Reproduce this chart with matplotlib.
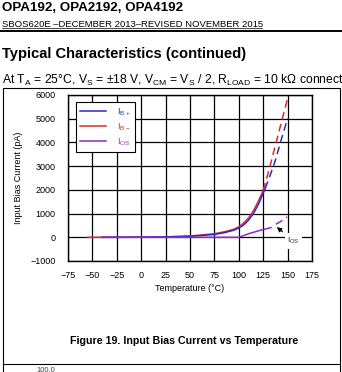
import matplotlib
matplotlib.use("Agg")
import matplotlib.pyplot as plt
from matplotlib.lines import Line2D
from matplotlib.patches import Rectangle

plt.rcParams['font.family'] = ['Liberation Sans', 'DejaVu Sans']
plt.rcParams['axes.unicode_minus'] = True

# Input bias current (pA) vs temperature (°C)
temp_ibp = [-40, -25, 0, 25, 50, 60, 75, 85, 95, 100, 105, 110, 115, 120, 127]
ibp = [0, 0, 5, 15, 40, 70, 120, 190, 300, 390, 520, 720, 1000, 1380, 2050]
temp_ibp_ext = [127, 132, 137.5, 143, 150]
ibp_ext = [2050, 2600, 3250, 4050, 5010]

temp_ibn = [-55, -40, -25, 0, 25, 50, 60, 75, 85, 95, 100, 105, 110, 115, 120, 125]
ibn = [0, 0, 0, 5, 20, 55, 90, 150, 230, 340, 440, 600, 820, 1120, 1520, 1980]
temp_ibn_ext = [125, 131, 137, 143, 150]
ibn_ext = [1980, 2850, 3800, 4750, 5860]

temp_ios = [-40, -25, 0, 25, 50, 75, 100, 110, 120, 133]
ios = [0, 0, 0, 0, 0, 0, 0, 150, 270, 410]
temp_ios_ext = [138, 144, 149.5]
ios_ext = [550, 690, 860]

blue = '#2a2ad0'
red = '#e02828'
purple = '#8a2ac8'

W, H = 342, 372
fig = plt.figure(figsize=(W / 100, H / 100), dpi=100)


def fx(px):
    return px / W


def fy(py):
    return 1 - py / H


# page header
fig.text(fx(2), fy(8), 'OPA192, OPA2192, OPA4192', fontsize=9.6, fontweight='bold', va='center')
fig.text(fx(2), fy(24.5), 'SBOS620E \u2013DECEMBER 2013\u2013REVISED NOVEMBER 2015', fontsize=6.8, va='center')
fig.add_artist(Line2D([fx(2), fx(262)], [fy(28), fy(28)], color='black', lw=0.5))
fig.add_artist(Line2D([0, 1], [fy(31), fy(31)], color='black', lw=1.4))
fig.text(fx(2), fy(54), 'Typical Characteristics (continued)', fontsize=10.6, fontweight='bold', va='center')
fig.text(fx(2), fy(80),
         'At T$_\\mathregular{A}$ = 25\u00b0C, V$_\\mathregular{S}$ = \u00b118 V, '
         'V$_\\mathregular{CM}$ = V$_\\mathregular{S}$ / 2, R$_\\mathregular{LOAD}$ = 10 k\u03a9 connected',
         fontsize=8.7, va='center')

# figure frame and the top of the next one
fig.add_artist(Rectangle((fx(2.5), fy(364)), fx(340) - fx(2.5), fy(88) - fy(364),
                         fill=False, edgecolor='black', lw=0.8))
fig.add_artist(Line2D([fx(2.5), fx(2.5)], [fy(364), 0], color='black', lw=0.8))
fig.add_artist(Line2D([fx(340), fx(340)], [fy(364), 0], color='black', lw=0.8))
fig.text(fx(36), fy(370.5), '100.0', fontsize=5.5, va='center', color='#444444')

ax = fig.add_axes([fx(68), fy(261), fx(312) - fx(68), fy(95) - fy(261)])

ax.plot(temp_ibn, ibn, color=red, lw=1.1, label='I$_\\mathregular{B-}$', zorder=3)
ax.plot(temp_ibn_ext, ibn_ext, color=red, lw=1.1, ls=(0, (5, 3)), zorder=3)
ax.plot(temp_ibp, ibp, color=blue, lw=1.1, label='I$_\\mathregular{B+}$', zorder=3)
ax.plot(temp_ibp_ext, ibp_ext, color=blue, lw=1.1, ls=(0, (5, 3)), zorder=3)
ax.plot(temp_ios, ios, color=purple, lw=1.1, label='I$_\\mathregular{OS}$', zorder=4)
ax.plot(temp_ios_ext, ios_ext, color=purple, lw=1.1, ls=(0, (5, 3)), zorder=4)

ax.set_xlim(-75, 175)
ax.set_ylim(-1000, 6000)
ax.set_xticks(range(-75, 176, 25))
ax.set_yticks(range(-1000, 6001, 1000))
ax.grid(True, color='black', lw=0.9)
ax.set_axisbelow(True)
ax.tick_params(length=0, labelsize=6.5)
ax.tick_params(axis='y', pad=9)
ax.tick_params(axis='x', pad=7)
for s in ax.spines.values():
    s.set_linewidth(1.0)
ax.set_xlabel('Temperature (\u00b0C)', fontsize=6.5, labelpad=3)
ax.set_ylabel('Input Bias Current (pA)', fontsize=6.5, labelpad=5)

handles, labels = ax.get_legend_handles_labels()
order = [1, 0, 2]
leg = ax.legend([handles[i] for i in order], [labels[i] for i in order],
                loc='upper left', bbox_to_anchor=(0.015, 0.985), fontsize=6.5,
                frameon=True, fancybox=False, edgecolor='black', framealpha=1,
                handlelength=2.8, handletextpad=1.3, borderpad=0.45, labelspacing=0.4,
                labelcolor='linecolor')
leg.get_frame().set_linewidth(0.8)

ax.annotate('I$_\\mathregular{OS}$', xy=(139, 430), xytext=(156, -150), fontsize=6,
            ha='center', va='center', color='#333333',
            bbox=dict(boxstyle='square,pad=0.3', fc='white', ec='none'),
            arrowprops=dict(arrowstyle='-|>', color='black', lw=0.8, mutation_scale=7,
                            shrinkA=2, shrinkB=0),
            zorder=5)

fig.text(fx(184), fy(341), 'Figure 19. Input Bias Current vs Temperature', fontsize=7.7,
         fontweight='bold', ha='center', va='center')

fig.savefig('out.png', dpi=100)
